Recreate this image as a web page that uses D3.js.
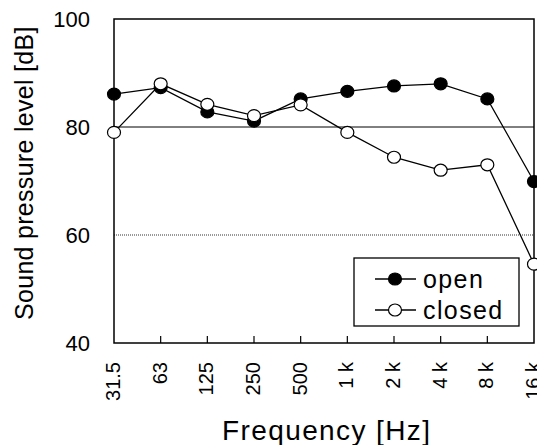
<!DOCTYPE html>
<html>
<head>
<meta charset="utf-8">
<script src="https://cdn.jsdelivr.net/npm/d3@7"></script>
<style>
  body { margin: 0; background: #fff; }
  text { font-family: "Liberation Sans", Arial, sans-serif; fill: #000; }
</style>
</head>
<body>
<svg id="chart" width="537" height="445"></svg>
<script>
// frequency bands (octave centres)
const freqs = ["31.5", "63", "125", "250", "500", "1 k", "2 k", "4 k", "8 k", "16 k"];
// sound pressure level [dB]
const openVals   = [86.1, 87.3, 82.8, 81.1, 85.2, 86.6, 87.6, 88.0, 85.2, 69.9];
const closedVals = [79.0, 88.0, 84.2, 82.1, 84.1, 79.0, 74.4, 72.0, 73.0, 54.6];
const yTicks = [40, 60, 80, 100];

const svg = d3.select("#chart");
const margin = { top: 19, right: 3, bottom: 102, left: 114 };
const width = +svg.attr("width"), height = +svg.attr("height");
const innerW = width - margin.left - margin.right;
const innerH = height - margin.top - margin.bottom;

const g = svg.append("g").attr("transform", `translate(${margin.left},${margin.top})`);

const x = d3.scalePoint().domain(freqs).range([0, innerW]);
const y = d3.scaleLinear().domain([40, 100]).range([innerH, 0]);

// horizontal reference lines
g.append("line")
  .attr("x1", 0).attr("x2", innerW)
  .attr("y1", y(80)).attr("y2", y(80))
  .attr("stroke", "#000").attr("stroke-width", 1);
g.append("line")
  .attr("x1", 0).attr("x2", innerW)
  .attr("y1", y(60)).attr("y2", y(60))
  .attr("stroke", "#333").attr("stroke-width", 1.2)
  .attr("stroke-dasharray", "1,1");

// frame
g.append("rect")
  .attr("x", 0).attr("y", 0).attr("width", innerW).attr("height", innerH)
  .attr("fill", "none").attr("stroke", "#000").attr("stroke-width", 1.5);

// x ticks pointing inward
g.selectAll("line.xtick")
  .data(freqs.slice(1, -1))
  .join("line")
  .attr("class", "xtick")
  .attr("x1", d => x(d)).attr("x2", d => x(d))
  .attr("y1", innerH).attr("y2", innerH - 7)
  .attr("stroke", "#000").attr("stroke-width", 1.2);

// x tick labels rotated
g.selectAll("text.xlab")
  .data(freqs)
  .join("text")
  .attr("class", "xlab")
  .attr("transform", d => `translate(${x(d) + 6},${innerH + 19}) rotate(-90)`)
  .attr("text-anchor", "end")
  .style("font-size", "20px")
  .text(d => d);

// y tick labels
g.selectAll("text.ylab")
  .data(yTicks)
  .join("text")
  .attr("class", "ylab")
  .attr("x", -24)
  .attr("y", d => y(d))
  .attr("dy", "0.36em")
  .attr("text-anchor", "end")
  .style("font-size", "22px")
  .text(d => d);

// axis titles
svg.append("text")
  .attr("x", 222).attr("y", 440)
  .style("font-size", "28px")
  .style("letter-spacing", "1.4px")
  .text("Frequency [Hz]");

svg.append("text")
  .attr("transform", "translate(33,320) rotate(-90)")
  .style("font-size", "25px")
  .style("letter-spacing", "0.3px")
  .text("Sound pressure level [dB]");

// series
const series = [
  { name: "open", vals: openVals, fill: "#000" },
  { name: "closed", vals: closedVals, fill: "#fff" }
];
const line = d3.line().x((d, i) => x(freqs[i])).y(d => y(d));

series.forEach(s => {
  g.append("path")
    .attr("d", line(s.vals))
    .attr("fill", "none")
    .attr("stroke", "#000")
    .attr("stroke-width", 1.3);
});
series.forEach(s => {
  g.selectAll(null)
    .data(s.vals)
    .join("ellipse")
    .attr("cx", (d, i) => x(freqs[i]))
    .attr("cy", d => y(d))
    .attr("rx", 6.5).attr("ry", 6)
    .attr("fill", s.fill)
    .attr("stroke", "#000")
    .attr("stroke-width", 1.2);
});

// legend
const legend = svg.append("g").attr("transform", "translate(354,258)");
legend.append("rect")
  .attr("width", 165).attr("height", 68)
  .attr("fill", "#fff").attr("stroke", "#000").attr("stroke-width", 1.3);
series.forEach((s, i) => {
  const row = legend.append("g").attr("transform", `translate(0,${21 + i * 31})`);
  row.append("line").attr("x1", 21).attr("x2", 62)
    .attr("stroke", "#000").attr("stroke-width", 1.3);
  row.append("ellipse").attr("cx", 41).attr("cy", 0).attr("rx", 6.5).attr("ry", 6)
    .attr("fill", s.fill).attr("stroke", "#000").attr("stroke-width", 1.2);
  row.append("text")
    .attr("x", 69).attr("dy", "0.35em")
    .style("font-size", "25px")
    .style("letter-spacing", "1.4px")
    .text(s.name);
});
</script>
</body>
</html>
